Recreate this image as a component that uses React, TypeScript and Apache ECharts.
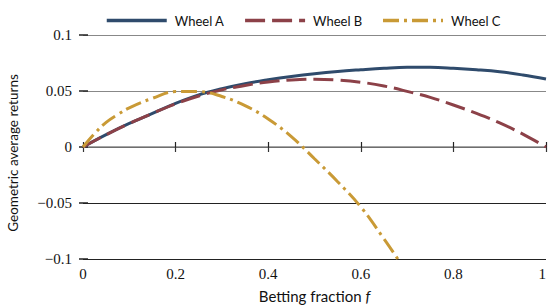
import React, { useEffect, useRef } from "react";
import * as echarts from "echarts";

const fractions = [0, 0.05, 0.1, 0.15, 0.2, 0.25, 0.3, 0.35, 0.4, 0.45, 0.5, 0.55, 0.6, 0.65, 0.7, 0.75, 0.8, 0.85, 0.9, 0.95, 1];
const wheelA = [0, 0.011, 0.021, 0.030, 0.039, 0.0465, 0.052, 0.0565, 0.060, 0.063, 0.0655, 0.0675, 0.069, 0.0703, 0.0711, 0.0711, 0.0703, 0.069, 0.0672, 0.0643, 0.0607];
const wheelB = [0, 0.011, 0.021, 0.030, 0.0385, 0.0455, 0.051, 0.055, 0.058, 0.0598, 0.0605, 0.0598, 0.0578, 0.0545, 0.0497, 0.0443, 0.0375, 0.030, 0.0215, 0.0115, 0];
const fractionsC = [0, 0.025, 0.05, 0.075, 0.1, 0.15, 0.2, 0.25, 0.3, 0.35, 0.4, 0.45, 0.5, 0.55, 0.6, 0.65, 0.68];
const wheelC = [0, 0.012, 0.022, 0.029, 0.035, 0.0435, 0.0495, 0.0495, 0.0451, 0.037, 0.025, 0.0093, -0.0105, -0.031, -0.0535, -0.082, -0.1];

const seriesNames = ["Wheel A", "Wheel B", "Wheel C"];
const colors = ["#2f4b6c", "#8c4148", "#c99a36"];
const xTitle = "Betting fraction ";
const yTitle = "Geometric average returns";

const serif = "'Liberation Serif', 'DejaVu Serif', serif";
const sans = "Lato, 'Open Sans', sans-serif";

export default function App() {
  const ref = useRef<HTMLDivElement>(null);
  useEffect(() => {
    if (!ref.current) return;
    const chart = echarts.init(ref.current, null, { renderer: "svg" });
    const fmtY = (v: number) => {
      if (Math.abs(v) < 1e-9) return "0";
      const s = String(+Math.abs(v).toFixed(3));
      return (v < 0 ? "\u2212" : "") + s;
    };
    chart.setOption({
      animation: false,
      backgroundColor: "#fff",
      grid: { left: 83, right: 2, top: 35, bottom: 48, containLabel: false, outerBoundsMode: "none" },
      legend: {
        left: 105,
        top: 14,
        padding: 0,
        itemWidth: 60,
        itemHeight: 16,
        itemGap: 19,
        lineStyle: { width: 3.5 },
        itemStyle: { opacity: 0 },
        textStyle: { fontFamily: sans, fontSize: 13, color: "#111", padding: [0, 0, 0, 3] },
        data: seriesNames,
      },
      graphic: [
        {
          type: "text",
          x: 13,
          y: 153,
          rotation: Math.PI / 2,
          style: {
            text: yTitle,
            fontFamily: sans,
            fontSize: 13.5,
            fill: "#111",
            align: "center",
            verticalAlign: "middle",
          },
        },
      ],
      xAxis: [
        {
          type: "value",
          position: "bottom",
          min: 0,
          max: 1,
          interval: 0.2,
          name: xTitle + "{i|f}",
          nameLocation: "middle",
          nameGap: 29,
          nameTextStyle: {
            fontFamily: sans,
            fontSize: 15,
            color: "#111",
            rich: { i: { fontFamily: sans, fontSize: 15, fontStyle: "italic", color: "#111" } },
          },
          axisLine: { show: true, lineStyle: { color: "#222", width: 1.2 } },
          axisTick: { show: true, inside: true, length: 5, lineStyle: { color: "#222", width: 1.2 } },
          axisLabel: { fontFamily: serif, fontSize: 15, color: "#111", margin: 7, alignMaxLabel: "right" },
          splitLine: { show: false },
        },
        {
          type: "value",
          position: "top",
          min: 0,
          max: 1,
          interval: 0.2,
          axisLine: { show: true, lineStyle: { color: "#888", width: 1.5 } },
          axisTick: { show: true, inside: true, length: 5, lineStyle: { color: "#333", width: 1.2 } },
          axisLabel: { show: false },
          splitLine: { show: false },
        },
      ],
      yAxis: [
        {
          type: "value",
          position: "left",
          min: -0.1,
          max: 0.1,
          interval: 0.05,
          axisLine: { show: false },
          axisTick: { show: true, inside: true, length: 5, lineStyle: { color: "#222", width: 1.5 } },
          axisLabel: { fontFamily: serif, fontSize: 15, color: "#111", margin: 11, formatter: fmtY },
          splitLine: { show: true, lineStyle: { color: ["#222", "#222", "#222", "#888", "#888"], width: 1.2 } },
        },
        {
          type: "value",
          position: "right",
          min: -0.1,
          max: 0.1,
          interval: 0.05,
          axisLine: { show: false },
          axisTick: { show: true, inside: true, length: 4, lineStyle: { color: "#222", width: 1.5 } },
          axisLabel: { show: false },
          splitLine: { show: false },
        },
      ],
      series: [
        {
          name: seriesNames[0],
          type: "line",
          data: fractions.map((f, i) => [f, wheelA[i]]),
          smooth: 0.4,
          symbol: "none",
          color: colors[0],
          lineStyle: { color: colors[0], width: 3 },
          z: 3,
        },
        {
          name: seriesNames[1],
          type: "line",
          data: fractions.map((f, i) => [f, wheelB[i]]),
          smooth: 0.4,
          symbol: "none",
          color: colors[1],
          lineStyle: { color: colors[1], width: 3, type: [20, 7] },
          z: 4,
        },
        {
          name: seriesNames[2],
          type: "line",
          data: fractionsC.map((f, i) => [f, wheelC[i]]),
          smooth: 0.4,
          symbol: "none",
          color: colors[2],
          lineStyle: { color: colors[2], width: 3, type: [16, 5, 3, 5] },
          z: 5,
        },
      ],
    });
    return () => chart.dispose();
  }, []);
  return <div ref={ref} style={{ position: "absolute", left: 0, top: 0, width: 548, height: 307 }} />;
}
